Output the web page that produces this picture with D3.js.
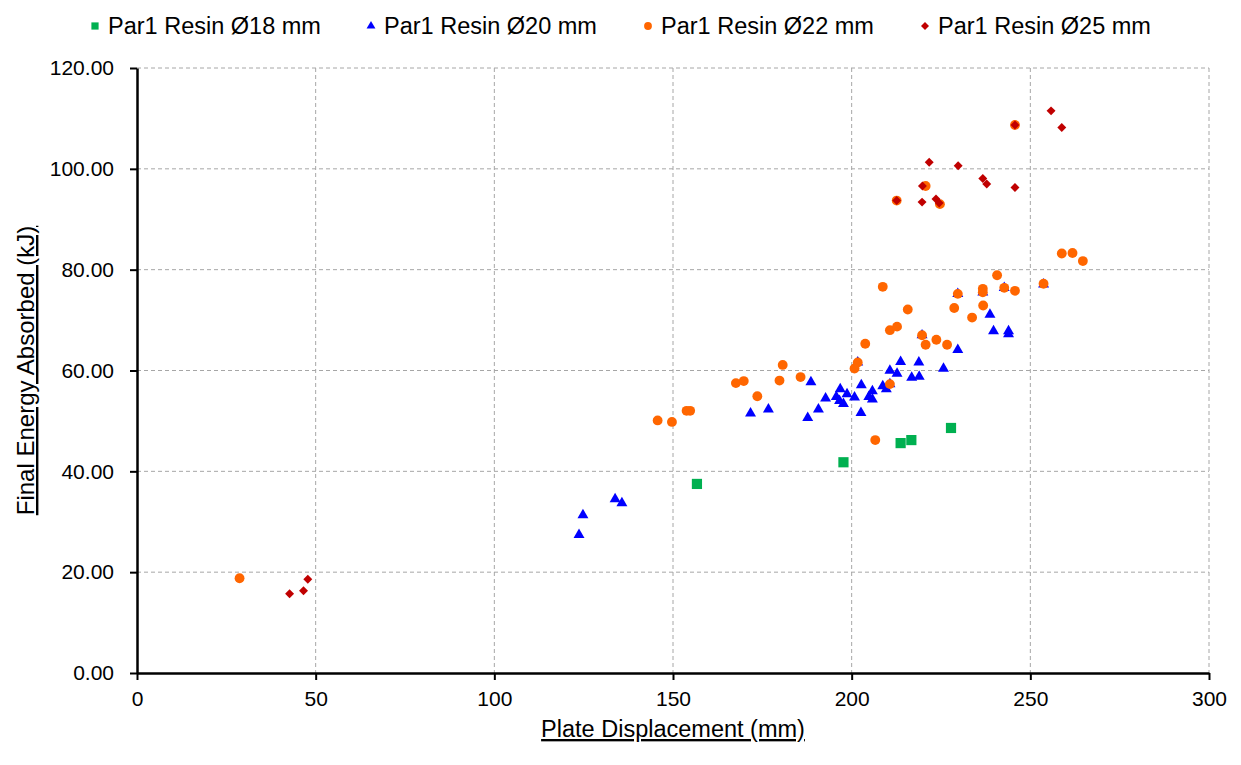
<!DOCTYPE html>
<html>
<head>
<meta charset="utf-8">
<script src="https://cdn.jsdelivr.net/npm/d3@7"></script>
<style>
  body { margin: 0; background: #fff; }
  text { font-family: "Liberation Sans", Arial, sans-serif; fill: #000; }
  .grid line { stroke: #a6a6a6; stroke-dasharray: 4,3; stroke-width: 1; }
  .axis path, .axis line { stroke: #000; }
</style>
</head>
<body>
<div id="chart"></div>
<script>
// series as [displacement mm, energy kJ]
var resin18 = [[156.7,37.5],[197.7,41.8],[213.7,45.6],[216.7,46.2],[227.8,48.6]]

var resin20 = [[123.7,27.4],[124.8,31.3],[133.8,34.5],[135.7,33.7],[171.7,51.5],[176.7,52.3],
	[187.7,50.6],[188.6,57.7],[190.7,52.3],[192.7,54.5],[195.7,54.8],[196.6,54.0],[196.8,56.3],
	[197.7,53.4],[198.7,55.3],[200.8,54.7],[201.7,61.6],[202.6,51.6],[202.7,57.1],[204.8,54.8],
	[205.8,55.9],[205.8,54.3],[208.7,56.9],[209.7,56.3],[210.7,60.0],[210.7,57.3],[212.7,59.4],
	[213.7,61.7],[216.8,58.6],[218.8,61.6],[218.9,58.8],[219.7,67.0],[225.7,60.4],[229.7,64.1],
	[229.7,75.2],[236.7,75.5],[238.7,71.1],[239.7,67.8],[242.7,76.4],[243.9,67.8],[243.9,67.2],
	[253.7,77.1]]

var resin22 = [[28.7,18.8],[145.7,50.1],[149.7,49.8],[153.8,52.0],[154.8,52.0],[167.6,57.5],
	[169.8,57.9],[173.6,54.9],[179.8,58.0],[180.7,61.1],[185.7,58.7],[200.8,60.4],[201.7,61.6],
	[203.8,65.3],[206.6,46.2],[208.7,76.6],[210.7,68.0],[210.7,57.3],[212.6,93.7],[212.7,68.7],
	[215.7,72.1],[219.7,67.0],[220.7,65.1],[220.7,96.6],[223.7,66.1],[224.7,93.0],[226.7,65.1],
	[228.7,72.4],[229.7,75.2],[233.7,70.5],[236.7,76.2],[236.7,75.5],[236.8,72.9],[240.7,78.9],
	[242.7,76.4],[245.7,75.8],[245.7,108.7],[253.7,77.2],[258.8,83.2],[261.8,83.3],[264.7,81.7]]

var resin25 = [[42.7,15.7],[46.6,16.3],[47.8,18.6],[212.6,93.7],[219.7,93.4],[219.8,96.6],
	[221.7,101.3],[223.6,94.0],[224.5,93.2],[229.8,100.6],[236.7,98.1],[237.8,97.0],[245.7,96.3],
	[245.7,108.7],[255.8,111.5],[258.8,108.2]]

var seriesNames = ['Par1 Resin Ø18 mm','Par1 Resin Ø20 mm','Par1 Resin Ø22 mm','Par1 Resin Ø25 mm']
var xTicks = [0,50,100,150,200,250,300]
var yTicks = [0,20,40,60,80,100,120]

var init = function(domelement){
	var width = 1241, height = 765
	var margin = {'top':68,'bottom':92,'left':137,'right':32}
	var w = width - margin.left - margin.right
	var h = height - margin.top - margin.bottom

	var svg = d3.select(domelement).append('svg')
		.attr('width',width).attr('height',height)

	var x = d3.scaleLinear().domain([0,300]).range([0,w])
	var y = d3.scaleLinear().domain([0,120]).range([h,0])

	var g = svg.append('g').attr('transform','translate('+margin.left+','+margin.top+')')

	// dashed grid
	var grid = g.append('g').attr('class','grid')
	grid.selectAll('.gy').data(yTicks.slice(1)).enter().append('line')
		.attr('x1',0).attr('x2',w)
		.attr('y1',function(d){ return y(d) }).attr('y2',function(d){ return y(d) })
	grid.selectAll('.gx').data(xTicks.slice(1)).enter().append('line')
		.attr('y1',0).attr('y2',h)
		.attr('x1',function(d){ return x(d) }).attr('x2',function(d){ return x(d) })

	var styles = [
		{'color':'#00b050','type':d3.symbolSquare,'size':104,'rot':0,'leg':52},
		{'color':'#0000ff','type':d3.symbolTriangle,'size':52,'rot':0,'leg':34},
		{'color':'#ff6600','type':d3.symbolCircle,'size':76,'rot':0,'leg':48},
		{'color':'#c00000','type':d3.symbolSquare,'size':40,'rot':45,'leg':32}
	]
	var allSeries = [resin18, resin20, resin22, resin25]

	allSeries.forEach(function(data,i){
		var s = styles[i]
		g.append('g').selectAll('path').data(data).enter().append('path')
			.attr('d', d3.symbol().type(s.type).size(s.size))
			.attr('fill', s.color)
			.attr('transform', function(d){
				return 'translate('+x(d[0])+','+y(d[1])+') rotate('+s.rot+')'
			})
	})

	// axes
	var xAxis = g.append('g').attr('class','axis')
		.attr('transform','translate(0,'+h+')')
		.call(d3.axisBottom(x).tickValues(xTicks).tickSize(7).tickSizeOuter(0).tickPadding(6))
	var yAxis = g.append('g').attr('class','axis')
		.call(d3.axisLeft(y).tickValues(yTicks).tickSize(7).tickSizeOuter(0).tickPadding(16)
			.tickFormat(d3.format('.2f')))
	g.selectAll('.axis path').attr('stroke-width',2.5)
	g.selectAll('.axis line').attr('stroke-width',2)
	g.selectAll('.axis text').attr('font-size','21px').attr('fill','#000')
		.style('font-family','"Liberation Sans", Arial, sans-serif')
	xAxis.selectAll('text').attr('dy','0.95em')

	// axis titles
	svg.append('text')
		.attr('x', margin.left + w/2).attr('y', 737)
		.attr('text-anchor','middle')
		.attr('font-size','23.5px')
		.attr('text-decoration','underline')
		.text('Plate Displacement (mm)')
	svg.append('text')
		.attr('transform','translate(34,'+(margin.top + h/2)+') rotate(-90)')
		.attr('text-anchor','middle')
		.attr('font-size','24px')
		.attr('text-decoration','underline')
		.text('Final Energy Absorbed (kJ)')

	// legend
	var legX = [95, 371, 648, 925]
	var leg = svg.append('g')
	seriesNames.forEach(function(name,i){
		var s = styles[i]
		leg.append('path')
			.attr('d', d3.symbol().type(s.type).size(s.leg))
			.attr('fill', s.color)
			.attr('transform','translate('+legX[i]+',26) rotate('+s.rot+')')
		leg.append('text')
			.attr('x', legX[i] + 13).attr('y', 34)
			.attr('font-size','23.5px')
			.text(name)
	})
}

init('#chart')
</script>
</body>
</html>
